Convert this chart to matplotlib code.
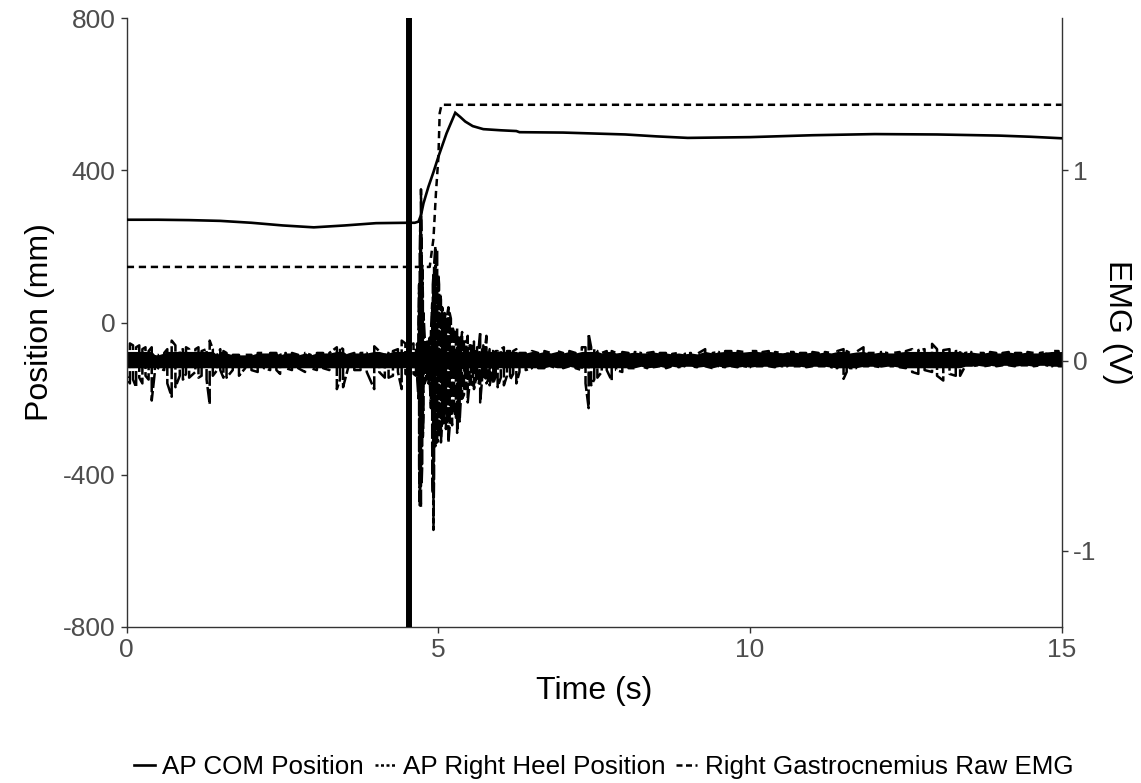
import numpy as np
import matplotlib
matplotlib.use("Agg")
import matplotlib.pyplot as plt
from matplotlib.lines import Line2D

plt.rcParams["font.family"] = ["Liberation Sans", "DejaVu Sans"]
plt.rcParams["axes.unicode_minus"] = False

# ---- AP centre-of-mass position (mm) ----
com_t = [0.0, 0.5, 1.0, 1.5, 2.0, 2.5, 3.0, 3.5, 4.0, 4.5, 4.62, 4.68, 4.72, 4.76,
         4.84, 4.92, 5.0, 5.13, 5.27, 5.35, 5.43, 5.55, 5.72, 6.0, 6.25, 6.3, 7.0,
         8.0, 8.5, 9.0, 10.0, 11.0, 12.0, 13.0, 14.0, 14.5, 15.0]
com_mm = [270, 270, 269, 267, 262, 255, 250, 255, 261, 262, 262, 265, 282, 313,
          357, 395, 436, 497, 551, 540, 528, 516, 508, 505, 503, 500, 499,
          494, 489, 485, 487, 492, 495, 494, 491, 488, 484]

# ---- AP right heel position (mm) ----
heel_t = [0.0, 4.86, 4.92, 4.96, 5.00, 5.02, 5.05, 15.0]
heel_mm = [146, 146, 220, 340, 436, 550, 572, 572]

# ---- Right gastrocnemius raw EMG (V): upper / lower excursion per time point ----
emg_t = [
    0.0, 0.05, 0.1, 0.15, 0.2, 0.25, 0.3, 0.35, 0.40, 0.45, 0.5, 0.6, 0.65, 0.72,
    0.78, 0.85, 0.9, 0.95, 1.0, 1.1, 1.15, 1.2, 1.28, 1.33, 1.38, 1.45, 1.5, 1.55,
    1.6, 1.7, 1.8, 1.9, 2.0, 2.1, 2.2, 2.3, 2.4, 2.46, 2.55, 2.65, 2.75, 2.86,
    2.95, 3.05, 3.15, 3.25, 3.37, 3.42, 3.47, 3.55, 3.65, 3.75, 3.85, 3.97, 4.05,
    4.14, 4.2, 4.27, 4.35, 4.41, 4.47, 4.53, 4.6, 4.64,
    4.66, 4.68, 4.69, 4.70, 4.71, 4.72, 4.73, 4.74, 4.75, 4.76, 4.78, 4.80, 4.82,
    4.84, 4.86, 4.88, 4.90, 4.91, 4.92, 4.93, 4.95, 4.96, 4.98, 5.00, 5.01, 5.03,
    5.04, 5.06, 5.08, 5.10, 5.12, 5.14, 5.16, 5.18, 5.20, 5.22, 5.25, 5.28, 5.30,
    5.32, 5.34, 5.36, 5.38, 5.41, 5.43, 5.45, 5.47, 5.50, 5.52, 5.55, 5.57, 5.60,
    5.62, 5.65, 5.67, 5.70, 5.72, 5.75, 5.77, 5.80, 5.82, 5.85, 5.88, 5.92, 5.95,
    6.00, 6.05, 6.10, 6.15, 6.20, 6.25, 6.30,
    6.4, 6.5, 6.6, 6.7, 6.8, 6.9, 7.0, 7.1, 7.2, 7.3, 7.36, 7.41, 7.45, 7.5, 7.55,
    7.62, 7.7, 7.78, 7.85, 7.95, 8.05, 8.15, 8.25, 8.35, 8.45, 8.55, 8.65, 8.75,
    8.85, 8.95, 9.05, 9.15, 9.28, 9.4,
    9.5, 9.6, 9.7, 9.8, 9.9, 10.0, 10.1, 10.2, 10.3, 10.4, 10.5, 10.6, 10.7, 10.8,
    10.9, 11.0, 11.1, 11.2, 11.3, 11.4, 11.5, 11.55, 11.6, 11.7, 11.82, 11.9, 12.0,
    12.1, 12.2, 12.3, 12.4, 12.5, 12.6, 12.7, 12.8, 12.92, 13.0, 13.1, 13.2, 13.3,
    13.37, 13.45, 13.55, 13.65, 13.75, 13.85, 13.95, 14.05, 14.15, 14.25, 14.35,
    14.45, 14.55, 14.65, 14.75, 14.85, 14.95, 15.0]
emg_hi = [
    .08, .09, .08, .07, .08, .06, .07, .05, .07, .03, .03, .04, .06, .105,
    .08, .05, .06, .07, .06, .06, .07, .05, .06, .105, .06, .03, .06, .05,
    .04, .03, .03, .03, .03, .04, .04, .04, .04, .03, .04, .04, .03, .04,
    .03, .04, .04, .04, .07, .07, .06, .03, .04, .04, .04, .075, .05,
    .04, .04, .05, .06, .105, .09, .08, .09, .07,
    .09, .20, .40, .56, .75, .90, .60, .50, .35, .25, .12, .08, .10,
    .08, .12, .15, .30, .40, .45, .50, .60, .55, .58, .45, .40, .35,
    .32, .28, .22, .25, .20, .24, .28, .25, .22, .18, .15, .14, .17,
    .12, .12, .10, .15, .10, .10, .09, .13, .08, .08, .07, .10, .06,
    .07, .08, .15, .07, .08, .07, .13, .06, .06, .05, .05, .05, .05,
    .06, .07, .05, .05, .05, .06, .04,
    .04, .05, .04, .05, .04, .05, .04, .05, .04, .07, .07, .14, .07, .06, .05,
    .04, .05, .05, .04, .045, .04, .045, .04, .04, .045, .04, .04, .035,
    .04, .035, .04, .035, .06, .04,
    .045, .05, .05, .05, .045, .05, .05, .045, .05, .045, .04, .045, .045, .04,
    .04, .045, .04, .045, .04, .05, .06, .05, .04, .045, .07, .04, .04,
    .045, .04, .04, .045, .05, .06, .055, .06, .088, .06, .055, .06, .05,
    .05, .04, .045, .04, .04, .045, .04, .04, .045, .04, .04,
    .045, .04, .04, .045, .05, .05, .045]
emg_lo = [
    -.08, -.12, -.10, -.14, -.09, -.12, -.08, -.10, -.21, -.06, -.04, -.05, -.12, -.19,
    -.14, -.08, -.10, -.07, -.09, -.06, -.09, -.08, -.10, -.23, -.08, -.05, -.05, -.09,
    -.09, -.05, -.08, -.04, -.05, -.06, -.04, -.05, -.05, -.07, -.04, -.05, -.04, -.06,
    -.04, -.05, -.04, -.05, -.15, -.10, -.14, -.04, -.05, -.05, -.06, -.15, -.06,
    -.09, -.09, -.08, -.06, -.15, -.07, -.08, -.07, -.08,
    -.10, -.20, -.55, -.76, -.70, -.77, -.65, -.55, -.40, -.30, -.12, -.10, -.08,
    -.12, -.10, -.25, -.45, -.70, -.89, -.60, -.45, -.40, -.43, -.38, -.40, -.35,
    -.43, -.30, -.33, -.28, -.36, -.30, -.43, -.35, -.30, -.34, -.25, -.30, -.38,
    -.28, -.32, -.20, -.20, -.18, -.15, -.14, -.22, -.12, -.12, -.13, -.15, -.10,
    -.10, -.12, -.22, -.10, -.10, -.09, -.12, -.10, -.13, -.09, -.12, -.08, -.14,
    -.09, -.13, -.08, -.10, -.07, -.12, -.06,
    -.05, -.04, -.04, -.04, -.03, -.04, -.04, -.03, -.04, -.05, -.12, -.25, -.13, -.10, -.09,
    -.06, -.05, -.105, -.05, -.06, -.04, -.04, -.03, -.04, -.035, -.03, -.04, -.03,
    -.035, -.03, -.03, -.035, -.03, -.04,
    -.03, -.035, -.03, -.035, -.03, -.035, -.03, -.03, -.03, -.035, -.03, -.03, -.03, -.03,
    -.035, -.03, -.03, -.03, -.035, -.04, -.096, -.06, -.04, -.04, -.03, -.03, -.03,
    -.035, -.03, -.03, -.035, -.04, -.06, -.07, -.05, -.06, -.08, -.105, -.07, -.08,
    -.08, -.03, -.03, -.025, -.03, -.025, -.03, -.025, -.025, -.03, -.025,
    -.025, -.03, -.025, -.025, -.03, -.03, -.03]

stim_time = 4.53  # perturbation onset (s)

x_ticks = [0, 5, 10, 15]
pos_ticks = [-800, -400, 0, 400, 800]
emg_ticks = [-1, 0, 1]

W, H = 1141, 783
fig = plt.figure(figsize=(W / 100, H / 100), dpi=100)
ax = fig.add_axes([126.8 / W, 1 - 627 / H, (1061.7 - 126.8) / W, (627 - 18) / H])
ax2 = ax.twinx()

# EMG drawn as alternating up/down strokes between its excursions
et = np.asarray(emg_t)
eh = np.asarray(emg_hi)
el = np.asarray(emg_lo)
px, py = [], []
for i, (t, h, l) in enumerate(zip(et, eh, el)):
    if i % 2 == 0:
        px += [t, t]; py += [h, l]
    else:
        px += [t, t]; py += [l, h]
ax2.fill_between(et, np.clip(el, -0.038, 0), np.clip(eh, 0, 0.048),
                 color="black", lw=0, zorder=1)
ax2.plot(px, py, color="black", lw=1.8, ls=(0, (6.0, 1.2)), zorder=2)
ax2.set_ylim(-1.4, 1.8)

ax.plot(com_t, com_mm, color="black", lw=1.9, solid_joinstyle="miter", zorder=3)
ax.plot(heel_t, heel_mm, color="black", lw=1.8, ls=(0, (2.9, 1.9)), zorder=3)
ax.axvline(stim_time, color="black", lw=4.3, zorder=4)
ax.set_zorder(ax2.get_zorder() + 1)
ax.patch.set_visible(False)

ax.set_xlim(0, 15)
ax.set_ylim(-800, 800)
ax.set_xticks(x_ticks)
ax.set_yticks(pos_ticks)
ax2.set_yticks(emg_ticks)

tick_col = "#4d4d4d"
for a in (ax, ax2):
    a.tick_params(axis="both", direction="out", length=4, width=1, colors="#333333",
                  labelcolor=tick_col, labelsize=19, pad=4)
    a.spines["top"].set_visible(False)
    for s in ("left", "right", "bottom"):
        a.spines[s].set_color("#333333")
        a.spines[s].set_linewidth(1)
ax.spines["right"].set_visible(False)
ax2.spines["left"].set_visible(False)
ax2.spines["bottom"].set_visible(False)

ax.set_xlabel("Time (s)", fontsize=23, labelpad=10)
ax.set_ylabel("Position (mm)", fontsize=23, labelpad=6)
ax2.set_ylabel("EMG (V)", fontsize=23, rotation=270, labelpad=26)

handles = [
    Line2D([], [], color="black", lw=1.9),
    Line2D([], [], color="black", lw=1.8, ls=(0, (1.2, 1.0))),
    Line2D([], [], color="black", lw=1.8, ls=(0, (2.4, 1.4))),
]
labels = ["AP COM Position", "AP Right Heel Position", "Right Gastrocnemius Raw EMG"]
fig.legend(handles, labels, loc="center", bbox_to_anchor=(0.529, 1 - 767 / H), ncol=3,
           frameon=False, fontsize=18.7, handlelength=0.8, handletextpad=0.3,
           columnspacing=0.4)

fig.savefig("out.png", dpi=100)
